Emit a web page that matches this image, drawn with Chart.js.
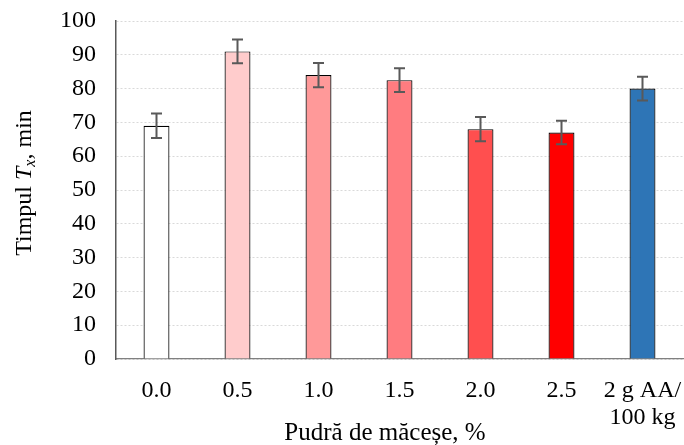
<!DOCTYPE html>
<html>
<head>
<meta charset="utf-8">
<script src="https://cdn.jsdelivr.net/npm/chart.js@4/dist/chart.umd.min.js"></script>
<style>
html,body{margin:0;padding:0;background:#fff;}
#wrap{width:684px;height:445px;position:relative;}
</style>
</head>
<body>
<div id="wrap"><canvas id="c" width="684" height="445"></canvas></div>
<script>
const categories = ["0.0", "0.5", "1.0", "1.5", "2.0", "2.5", ["2 g AA/", "100 kg"]];
const values = [69, 91, 84, 82.5, 68, 67, 80];
const errors = [3.6, 3.5, 3.6, 3.5, 3.6, 3.5, 3.5];
const barColors = ["#FFFFFF", "#FFCCCC", "#FF9999", "#FF7C80", "#FF4F4F", "#FF0000", "#2E75B6"];
const yTicks = [0, 10, 20, 30, 40, 50, 60, 70, 80, 90, 100];
const xTitle = "Pudră de măceșe, %";
const yTitleParts = [
  {t: "Timpul ", style: ""},
  {t: "T", style: "italic "},
  {t: "x", style: "italic ", sub: true},
  {t: ", min", style: ""}
];

const FONT = "'Liberation Serif', 'Times New Roman', serif";

const errorBars = {
  id: 'errorBars',
  afterDatasetsDraw(chart) {
    const ctx = chart.ctx;
    const meta = chart.getDatasetMeta(0);
    const ys = chart.scales.y;
    ctx.save();
    ctx.strokeStyle = '#595959';
    ctx.lineWidth = 2;
    meta.data.forEach((bar, i) => {
      const x = bar.x;
      const t = ys.getPixelForValue(values[i] + errors[i]);
      const b = ys.getPixelForValue(values[i] - errors[i]);
      ctx.beginPath();
      ctx.moveTo(x, t); ctx.lineTo(x, b);
      ctx.moveTo(x - 5.5, t); ctx.lineTo(x + 5.5, t);
      ctx.moveTo(x - 5.5, b); ctx.lineTo(x + 5.5, b);
      ctx.stroke();
    });
    ctx.restore();
  }
};

const titles = {
  id: 'titles',
  afterDraw(chart) {
    const ctx = chart.ctx;
    ctx.save();
    ctx.fillStyle = '#000';
    ctx.font = "25px " + FONT;
    ctx.textAlign = 'center';
    ctx.textBaseline = 'alphabetic';
    ctx.fillText(xTitle, 385, 440);
    const size = 24;
    let total = 0;
    const widths = yTitleParts.map(p => {
      const s = p.sub ? Math.round(size * 0.65) : size;
      ctx.font = p.style + s + "px " + FONT;
      const w = ctx.measureText(p.t).width;
      total += w;
      return w;
    });
    ctx.translate(31, 183);
    ctx.rotate(-Math.PI / 2);
    ctx.textAlign = 'left';
    let xpos = -total / 2;
    yTitleParts.forEach((p, i) => {
      const s = p.sub ? Math.round(size * 0.65) : size;
      ctx.font = p.style + s + "px " + FONT;
      ctx.fillText(p.t, xpos, p.sub ? 4 : 0);
      xpos += widths[i];
    });
    ctx.restore();
  }
};

new Chart(document.getElementById('c'), {
  type: 'bar',
  data: {
    labels: categories,
    datasets: [{
      data: values,
      backgroundColor: barColors,
      borderColor: '#000000',
      borderWidth: 1.2,
      barPercentage: 0.32,
      categoryPercentage: 1.0
    }]
  },
  options: {
    responsive: false,
    devicePixelRatio: 1,
    animation: false,
    layout: {padding: {top: 21, right: 1, left: 0, bottom: 0}},
    plugins: {legend: {display: false}, tooltip: {enabled: false}},
    scales: {
      x: {
        grid: {display: false, drawTicks: false},
        border: {display: true, color: '#808080', width: 1.3},
        ticks: {
          color: '#000',
          font: {family: FONT, size: 24, lineHeight: 1.1},
          padding: 19,
          maxRotation: 0,
          autoSkip: false
        },
        afterFit(s) { s.height = 86; s.paddingLeft = 0; s.paddingRight = 0; }
      },
      y: {
        min: 0, max: 100,
        afterBuildTicks(s) { s.ticks = yTicks.map(v => ({value: v})); },
        grid: {color: '#d9d9d9', lineWidth: 1, drawTicks: false},
        border: {display: true, color: '#595959', width: 1.5, dash: [2, 2]},
        ticks: {
          color: '#000',
          font: {family: FONT, size: 24},
          padding: 20
        },
        afterFit(s) { s.width = 116; s.paddingTop = 0; s.paddingBottom = 0; }
      }
    }
  },
  plugins: [errorBars, titles]
});
</script>
</body>
</html>
